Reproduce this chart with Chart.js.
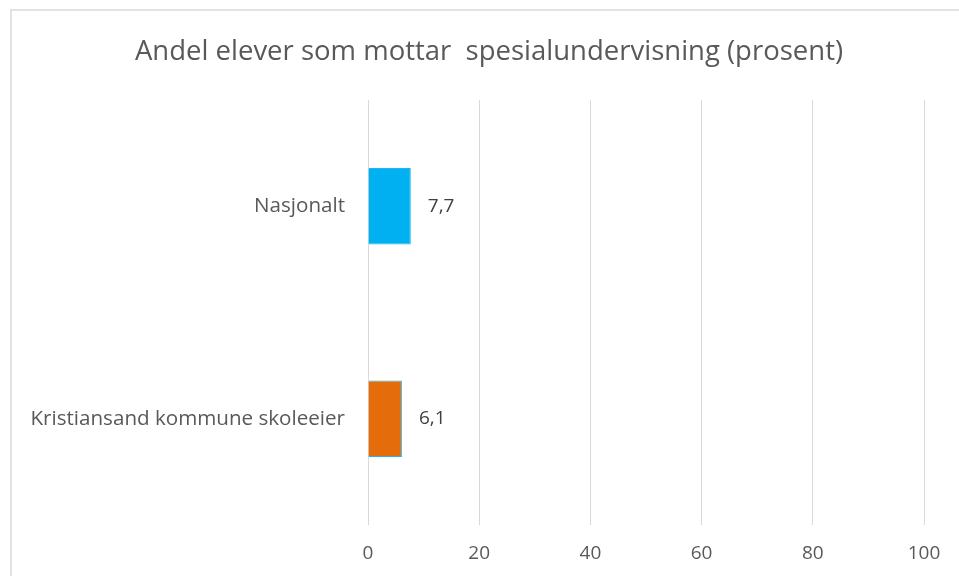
<!DOCTYPE html>
<html>
<head>
<meta charset="utf-8">
<script src="https://cdn.jsdelivr.net/npm/chart.js@4/dist/chart.umd.min.js"></script>
<style>
  html, body { margin:0; padding:0; background:#fff; }
  #wrap { position:relative; width:959px; height:576px; overflow:hidden; }
  #frame { position:absolute; left:10px; top:9px; width:1000px; height:700px; border:2px solid #e2e2e2; box-sizing:border-box; }
  #chart { position:absolute; left:0; top:0; }
</style>
</head>
<body>
<div id="wrap">
  <div id="frame"></div>
  <canvas id="chart" width="959" height="576"></canvas>
</div>
<script>
/* ---- data ---- */
const categories = ['Nasjonalt', 'Kristiansand kommune skoleeier'];
const values = [7.7, 6.1];
const barColors = ['#00B0F0', '#E46C0A'];
const titleText = 'Andel elever som mottar  spesialundervisning (prosent)';
const xMin = 0, xMax = 100, xStep = 20;

const textGrey = '#595959';
const fontFamily = '"Open Sans", "Noto Sans", sans-serif';

// value labels to the right of each bar, norwegian decimal comma
const barLabels = {
  id: 'barLabels',
  afterDatasetsDraw(chart){
    const ctx = chart.ctx;
    const meta = chart.getDatasetMeta(0);
    ctx.save();
    ctx.font = '19px ' + fontFamily;
    ctx.fillStyle = '#404040';
    ctx.textAlign = 'left';
    ctx.textBaseline = 'middle';
    meta.data.forEach((bar, i) => {
      ctx.fillText(values[i].toFixed(1).replace('.', ','), bar.x + 17, bar.y);
    });
    ctx.restore();
  }
};

// title is centred on the whole frame, not just the plot side
const shiftTitle = {
  id: 'shiftTitle',
  afterLayout(chart){
    if (chart.titleBlock) chart.titleBlock.left = 54;
  }
};

new Chart(document.getElementById('chart'), {
  type: 'bar',
  data: {
    labels: categories,
    datasets: [{
      data: values,
      backgroundColor: barColors,
      borderColor: '#1FB8EE',
      borderWidth: 1,
      barPercentage: 0.36,
      categoryPercentage: 1
    }]
  },
  options: {
    indexAxis: 'y',
    responsive: false,
    animation: false,
    layout: { padding: { left: 0, right: 35, top: 0, bottom: 0 } },
    plugins: {
      legend: { display: false },
      tooltip: { enabled: false },
      title: {
        display: true,
        text: titleText,
        color: textGrey,
        font: { family: fontFamily, size: 27.5, weight: 'normal' },
        padding: { top: 36, bottom: 31 }
      }
    },
    scales: {
      x: {
        min: xMin, max: xMax,
        ticks: { stepSize: xStep, color: textGrey, font: { family: fontFamily, size: 19 }, padding: 17 },
        grid: { color: '#d9d9d9', lineWidth: 1, drawTicks: false },
        border: { display: false },
        afterFit(scale){ scale.height = 51; }
      },
      y: {
        ticks: { color: textGrey, font: { family: fontFamily, size: 20.6 }, padding: 23 },
        grid: { display: false, drawTicks: false },
        border: { display: false },
        afterFit(scale){ scale.width = 368; }
      }
    }
  },
  plugins: [barLabels, shiftTitle]
});
</script>
</body>
</html>
